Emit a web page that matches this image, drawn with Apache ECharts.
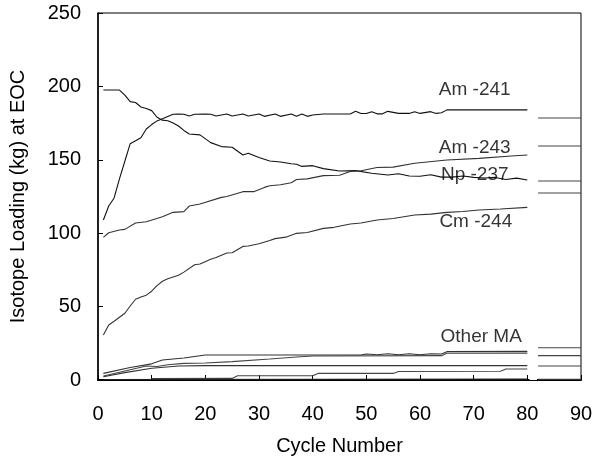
<!DOCTYPE html>
<html>
<head>
<meta charset="utf-8">
<script src="https://cdn.jsdelivr.net/npm/echarts@6/dist/echarts.min.js"></script>
<style>
  html, body { margin: 0; padding: 0; background: #fff; }
  #chart { width: 603px; height: 461px; }
</style>
</head>
<body>
<div id="chart"></div>
<script>
// values: [cycle, kg]
const am241 = [[1,109],[2,118.5],[3,124],[4,137],[5,149],[6,161],[7,163],[8,165],[9,171],[10,174],[11,176.5],[12,178],[13,179.5],[14,181],[15,181.2],[16,181],[17,179.8],[18,181],[20,181.2],[21,181],[22,179.8],[24,181.2],[25,179.8],[27,181.2],[28,179.8],[30,181.2],[31,179.6],[33,181.2],[34,179.6],[36,181.2],[37,179.6],[38,181.2],[39,179.6],[40,180.5],[42,181.2],[47,181.2],[48,183],[49,181.5],[50,181.5],[51,182.8],[52,181.3],[53,181.3],[54,183],[56,181.6],[58,181.6],[59,182.8],[60,181.6],[62,182.8],[63,181.6],[64,182],[65,184],[80,184]];

const np237 = [[1,197.5],[4,197.5],[5,194],[6,189.6],[7,189],[8,186],[9,185],[10,183.5],[11,179],[12,177],[13,176.6],[14,175],[15,173],[16,170],[17,167.6],[19,167],[21,161.7],[23,159],[25,158.5],[27,153.3],[28,154.4],[30,151.5],[32,149.2],[34,148.5],[36,147.3],[37,147],[38,145.5],[40,146],[42,144],[45,142.4],[48,142.6],[51,140.8],[54,139.6],[56,140.5],[58,139],[60,138.8],[62,139.8],[64,138.2],[66,138.2],[68,139],[70,138],[72,137.6],[74,138],[76,136.6],[78,137.5],[80,136.2]];

const am243 = [[1,97.2],[2,100.3],[4,102.2],[5,102.6],[7,107],[9,107.8],[12,111.2],[14,114.2],[16,114.7],[17,118.5],[19,119.9],[23,124.4],[24,125],[27,128.3],[29,128.3],[31,131.2],[32,132.3],[34,133],[36,134.4],[37,136.6],[39,137],[42,139.2],[45,139.5],[47,142.1],[49,142.5],[52,144.8],[55,145],[59,147.6],[65,149.9],[71,151],[77,152.6],[80,153.3]];

const cm244 = [[1,30.7],[2,37.5],[3,40],[5,45.5],[6,50.4],[7,55],[8,56.5],[9,57.8],[10,60.5],[11,64.3],[12,67.3],[13,69],[15,71.3],[16,73.5],[18,78.5],[19,79],[21,82.3],[22,83.5],[24,86.5],[25,86.7],[27,91],[28,91.3],[30,92.8],[32,95],[33,96.3],[35,97.3],[37,99.9],[39,100.5],[42,103.3],[44,104],[47,106.3],[49,107],[52,109],[55,110],[59,112.4],[62,113],[65,114.2],[68,114.8],[71,115.8],[75,116.5],[80,117.6]];

// the "Other MA" bundle near the bottom
const otherA = [[1,4.5],[6,8.5],[10,11],[12,13.6],[16,15],[20,17],[49,17],[50,17.7],[52,17.2],[54,17.9],[56,17.2],[58,17.9],[60,17.2],[62,17.9],[64,17.7],[65,19.3],[80,19.5]];
const otherB = [[1,2.7],[6,7],[9,9.5],[11,9.2],[13,10.4],[16,11.3],[20,11.6],[25,12.5],[32,14.3],[37,15.7],[40,16.3],[64,16.6],[65,18.2],[80,18.3]];
const otherC = [[1,2.2],[5,5],[10,8],[15,9.5],[20,9.8],[80,9.8]];
const otherD = [[10,1],[25,1.1],[26,2.9],[40,2.9],[41,4.5],[55,4.5],[56,5.8],[75,6],[76,7.5],[80,7.5]];
const otherE = [[1,0.3],[80,0.6]];

// short levels drawn to the right of cycle 80
const eqFrom = 82, eqTo = 90;
const eqLevels = [178.5, 159.4, 135.6, 127.4, 22, 16.6, 9.5, 0.5];

const labelNames = ['Am -241', 'Am -243', 'Np -237', 'Cm -244', 'Other MA'];
const labelSpots = [[70.2,198], [70.2,158.4], [70.2,140], [70.4,107.6], [71.4,29.6]];

const xTicks = [0, 10, 20, 30, 40, 50, 60, 70, 80, 90];
const yTicks = [0, 50, 100, 150, 200, 250];

const font = 'Liberation Sans, Arial, sans-serif';

function curve(data, color) {
    return {
        type: 'line',
        data: data,
        symbol: 'none',
        lineStyle: { color: color, width: 1.1 },
        silent: true
    };
}

let series = [
    curve(am241, '#111'),
    curve(np237, '#111'),
    curve(am243, '#333'),
    curve(cm244, '#333'),
    curve(otherA, '#333'),
    curve(otherB, '#444'),
    curve(otherC, '#333'),
    curve(otherD, '#444'),
    curve(otherE, '#222')
];

eqLevels.forEach(v => {
    series.push(curve([[eqFrom, v], [eqTo, v]], '#444'));
});

series.push({
    type: 'scatter',
    symbolSize: 0,
    clip: false,
    silent: true,
    data: labelSpots.map((p, i) => [p[0], p[1], labelNames[i]]),
    label: {
        show: true,
        position: 'inside',
        formatter: p => p.value[2],
        color: '#000',
        fontFamily: font,
        fontSize: 19
    },
    markArea: {
        silent: true,
        itemStyle: { color: '#fff' },
        data: [[{ xAxis: 80.4, yAxis: -2 }, { xAxis: 81.8, yAxis: 2 }]]
    },
    z: 5
});

let chart = echarts.init(document.getElementById('chart'));

chart.setOption({
    animation: false,
    backgroundColor: '#fff',
    grid: {
        left: 98, right: 22, top: 13, bottom: 81,
        show: true, borderColor: '#000', borderWidth: 1
    },
    xAxis: {
        type: 'value',
        min: xTicks[0],
        max: xTicks[xTicks.length - 1],
        interval: 10,
        name: 'Cycle Number',
        nameLocation: 'middle',
        nameGap: 56,
        nameTextStyle: { fontFamily: font, fontSize: 20, color: '#000' },
        axisLine: { lineStyle: { color: '#000', width: 2 } },
        axisTick: { inside: true, length: 5, lineStyle: { color: '#000' } },
        axisLabel: { fontFamily: font, fontSize: 20, color: '#000', margin: 24 },
        splitLine: { show: false }
    },
    yAxis: {
        type: 'value',
        min: yTicks[0],
        max: yTicks[yTicks.length - 1],
        interval: 50,
        name: 'Isotope Loading (kg) at EOC',
        nameLocation: 'middle',
        nameGap: 70,
        nameTextStyle: { fontFamily: font, fontSize: 20, color: '#000' },
        axisLine: { lineStyle: { color: '#000', width: 1.5 } },
        axisTick: { inside: true, length: 5, lineStyle: { color: '#000' } },
        axisLabel: { fontFamily: font, fontSize: 20, color: '#000', margin: 17 },
        splitLine: { show: false }
    },
    series: series
});
</script>
</body>
</html>
